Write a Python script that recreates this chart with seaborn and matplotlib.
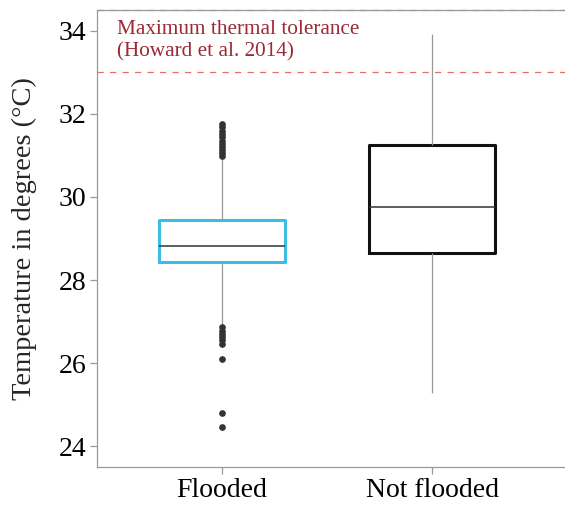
import numpy as np
import pandas as pd
import matplotlib
matplotlib.use("Agg")
import matplotlib.pyplot as plt
import seaborn as sns

# values (degrees C)
groups = ["Flooded", "Not flooded"]

# Flooded: tails + repeated quartile values so the box stats match the picture
flooded_low = [24.45, 24.8, 26.1, 26.45, 26.55, 26.62, 26.7, 26.78, 26.86, 26.92]
flooded_q1, flooded_med, flooded_q3 = 28.43, 28.83, 29.44
flooded_counts = [21, 30, 27]
flooded_high = [30.92, 30.98, 31.05, 31.12, 31.2, 31.28, 31.36, 31.44, 31.52,
                31.6, 31.68, 31.76]

# Not flooded: whisker ends, quartiles and median
not_flooded = [25.28, 28.64, 29.75, 31.25, 33.93]

tolerance = 33.0
tolerance_top = 34.5

flooded = (flooded_low
           + [flooded_q1] * flooded_counts[0]
           + [flooded_med] * flooded_counts[1]
           + [flooded_q3] * flooded_counts[2]
           + flooded_high)

df = pd.DataFrame({
    "group": [groups[0]] * len(flooded) + [groups[1]] * len(not_flooded),
    "temp": flooded + not_flooded,
})

sns.set_theme(style="white")
plt.rcParams["font.family"] = ["Liberation Serif", "DejaVu Serif"]

fig = plt.figure(figsize=(5.65, 5.08), dpi=100)
ax = fig.add_axes([0.172, 0.081, 0.828, 0.899])

sns.boxplot(
    data=df, x="group", y="temp", hue="group", order=groups,
    palette={"Flooded": "#3cbde6", "Not flooded": "#111111"},
    fill=False, legend=False, width=0.6, whis=1.5, ax=ax,
    boxprops=dict(linewidth=2.2),
    medianprops=dict(color="#333333", linewidth=1.1),
    whiskerprops=dict(color="#999999", linewidth=0.9),
    capprops=dict(linewidth=0),
    flierprops=dict(marker="o", markersize=3.8, markerfacecolor="#333333",
                    markeredgecolor="#333333"),
)

ax.axhline(tolerance, color="#e07070", linestyle=(0, (5, 5)), linewidth=0.9)
ax.axhline(tolerance_top, color="#e07070", linestyle=(0, (5, 5)), linewidth=0.9, clip_on=False)
ax.text(-0.5, 34.26, "Maximum thermal tolerance\n(Howard et al. 2014)",
        color="#9b2a35", fontsize=15.3, va="top", ha="left", linespacing=1.2)

ax.set_xlim(-0.595, 1.633)
ax.set_ylim(23.5, 34.5)
ax.set_yticks([24, 26, 28, 30, 32, 34])
ax.set_xlabel("")
ax.set_ylabel("Temperature in degrees (°C)", fontsize=20.5, labelpad=15)

for side in ["left", "bottom", "top"]:
    ax.spines[side].set_color("#999999")
    ax.spines[side].set_linewidth(0.9)
ax.spines["right"].set_visible(False)
ax.tick_params(axis="both", colors="#999999", length=5, width=0.9,
               labelcolor="black", labelsize=20, direction="out",
               left=True, bottom=True, pad=3)

fig.savefig("out.png", dpi=100)
